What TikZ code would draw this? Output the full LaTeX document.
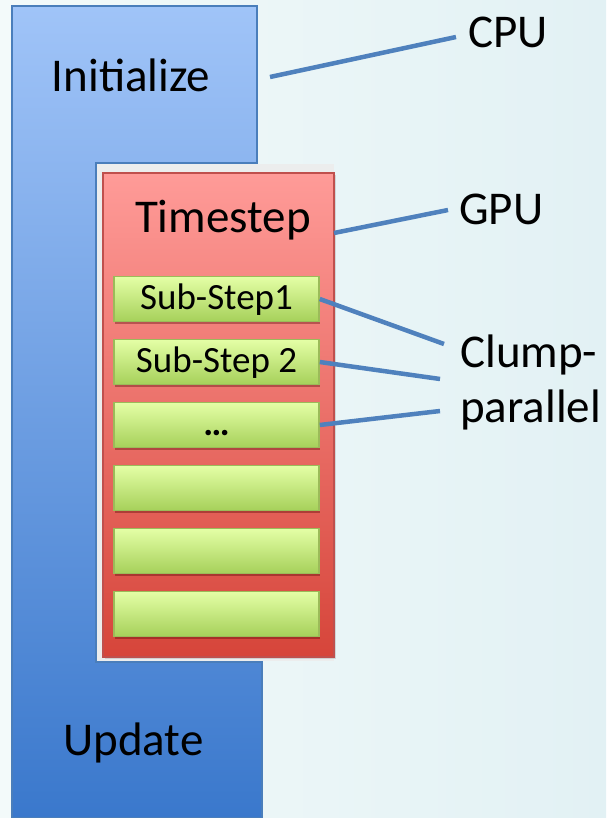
\documentclass[tikz,border=0pt]{standalone}
\usepackage{fontspec}
\setmainfont{Carlito}
\usetikzlibrary{shadows}
\definecolor{bgA}{HTML}{F3FAFA}
\definecolor{bgB}{HTML}{E2F1F4}
\definecolor{blueTop}{HTML}{A0C4F8}
\definecolor{blueBot}{HTML}{3A78CC}
\definecolor{blueBorder}{HTML}{4A7EBB}
\definecolor{redTop}{HTML}{FF9B98}
\definecolor{redBot}{HTML}{D6453A}
\definecolor{redBorder}{HTML}{C0504D}
\definecolor{greenTop}{HTML}{E4FFA6}
\definecolor{greenBot}{HTML}{A6D05A}
\definecolor{greenBorder}{HTML}{9BBB59}
\definecolor{lineBlue}{HTML}{4F81BD}
\definecolor{gapGray}{HTML}{ECEDED}
\begin{document}
\begin{tikzpicture}[x=1pt,y=1pt,
  big/.style={font=\fontsize{47}{56}\selectfont, inner sep=0pt},
  substep/.style={rectangle, draw=greenBorder, line width=1.5pt,
    top color=greenTop, bottom color=greenBot,
    minimum width=205pt, minimum height=45pt, inner sep=0pt,
    text height=25pt, text depth=5pt,
    font=\fontsize{37}{44}\selectfont,
    drop shadow={opacity=0.35, shadow xshift=1pt, shadow yshift=-2pt, fill=black!70!red}},
  conn/.style={draw=lineBlue, line width=4.5pt}
]
\useasboundingbox (0,0) rectangle (606,-818);
% background
\shade[left color=bgA, right color=bgB] (0,0) rectangle (606,-818);
% CPU bracket shape
\path[draw=blueBorder, line width=1.5pt, top color=blueTop, bottom color=blueBot]
  (12,-6) -- (257,-6) -- (257,-163) -- (96,-163) -- (96,-662)
  -- (262,-662) -- (262,-818) -- (12,-818) -- cycle;
% light gap behind GPU box
\fill[gapGray] (97,-164) rectangle (334,-661);
% GPU box
\node[rectangle, draw=redBorder, line width=1.5pt, top color=redTop, bottom color=redBot,
  minimum width=231pt, minimum height=484pt, inner sep=0pt,
  drop shadow={opacity=0.25, shadow xshift=2pt, shadow yshift=-2pt}]
  (gpubox) at (218.5,-415) {};
% texts in blocks
\node[big, anchor=base] (init) at (131,-92) {Initialize};
\node[big, anchor=base] (update) at (133.5,-755) {Update};
\node[big, anchor=base] (timestep) at (223,-233) {Timestep};
% sub-steps
\node[substep] (s1) at (216.5,-299) {Sub-Step1};
\node[substep] (s2) at (216.5,-362) {Sub-Step 2};
\node[substep] (s3) at (216.5,-425) {\textbf{…}};
\node[substep] (s4) at (216.5,-488) {};
\node[substep] (s5) at (216.5,-551) {};
\node[substep] (s6) at (216.5,-614) {};
% labels
\node[big, anchor=base west] (cpu) at (468,-48) {CPU};
\node[big, anchor=base west] (gpu) at (459,-225) {GPU};
\node[big, anchor=base west] (clump) at (460,-367) {Clump-};
\node[big, anchor=base west] (parallel) at (460,-422) {parallel};
% connector end points
\coordinate (cpuFrom) at (270,-77);
\coordinate (cpuTo) at (456,-37);
\coordinate (gpuFrom) at (334,-233);
\coordinate (gpuTo) at (448,-210);
\coordinate (c1) at (444,-344);
\coordinate (c2) at (440,-379);
\coordinate (c3) at (440,-411);
% connectors
\draw[conn] (cpuFrom) -- (cpuTo);
\draw[conn] (gpuFrom) -- (gpuTo);
\draw[conn] (s1.east) -- (c1);
\draw[conn] (s2.east) -- (c2);
\draw[conn] (s3.east) -- (c3);
\end{tikzpicture}
\end{document}
